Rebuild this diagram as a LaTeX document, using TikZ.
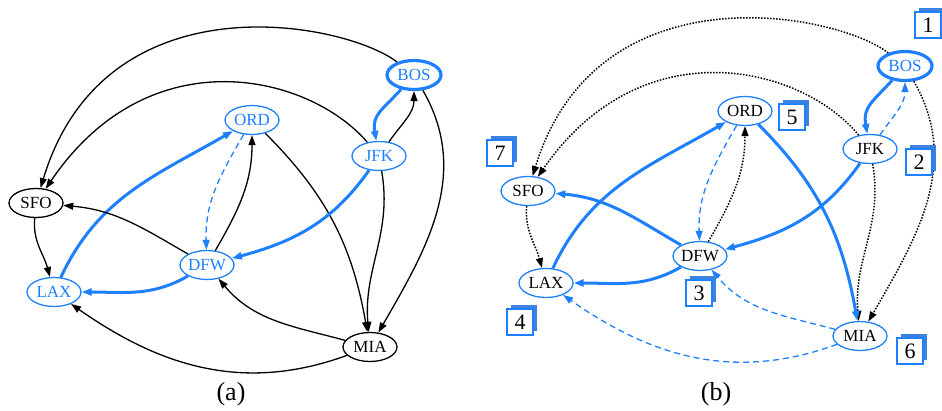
\documentclass[tikz,border=0pt]{standalone}
\usepackage{fontspec}
\setmainfont{Liberation Serif}
\usetikzlibrary{arrows.meta,shapes.geometric,shadows}
\definecolor{myblue}{RGB}{30,128,255}
\definecolor{shblue}{RGB}{60,130,225}
\tikzset{
  arr/.style={-{Triangle[length=10pt,width=7pt]}},
  blk/.style={arr,draw=black,line width=1.3pt},
  thk/.style={arr,draw=myblue,line width=3pt},
  dsh/.style={arr,draw=myblue,line width=1.3pt,dash pattern=on 6pt off 4pt},
  dts/.style={arr,draw=black,line width=1.5pt,dash pattern=on 1.5pt off 1.5pt},
  apt/.style={ellipse,draw=black,line width=1.3pt,minimum width=54pt,minimum height=29pt,inner sep=0pt,font=\fontsize{17}{17}\selectfont},
  bapt/.style={apt,draw=myblue,text=myblue},
  capt/.style={apt,draw=myblue,text=black},
  bos/.style={apt,draw=myblue,text=myblue,line width=3.2pt},
  numbox/.style={rectangle,draw=myblue,fill=white,line width=1.5pt,minimum width=26pt,minimum height=26pt,inner sep=0pt,
    font=\fontsize{22}{22}\selectfont,
    general shadow={fill=shblue,shadow xshift=4pt,shadow yshift=4pt}},
  panellabel/.style={font=\fontsize{26}{26}\selectfont}
}
\newcommand\alledges[1]{%
 \draw[e1] (#1BOS) .. controls (345,-22) and (105,25) .. (#1SFO);
 \draw[e2] (#1JFK) .. controls (310,-75) and (150,-35) .. (#1SFO);
 \draw[e3] (#1BOS) to[out=228,in=100,looseness=1.2] (#1JFK);
 \draw[e4] (#1JFK) to[out=55,in=270] (#1BOS);
 \draw[e5] (#1BOS) to[out=-60,in=60] (#1MIA);
 \draw[e6] (#1JFK) to[out=-80,in=95] (#1MIA);
 \draw[e7] (#1ORD) to[out=-45,in=100] (#1MIA);
 \draw[e8] (#1JFK) to[out=235,in=15] (#1DFW);
 \draw[e9] (#1ORD) to[out=240,in=92] (#1DFW);
 \draw[e10] (#1DFW) to[out=60,in=270] (#1ORD);
 \draw[e11] (#1LAX) to[out=65,in=210] (#1ORD);
 \draw[e12] (#1DFW) to[out=150,in=-5] (#1SFO);
 \draw[e13] (#1SFO) to[out=265,in=105] (#1LAX);
 \draw[e14] (#1DFW) to[out=210,in=0] (#1LAX);
 \draw[e15] (#1MIA) to[out=165,in=-50] (#1DFW);
 \draw[e16] (#1MIA) to[out=200,in=-35] (#1LAX);
}
\begin{document}
\begin{tikzpicture}[x=1pt,y=1pt]
\useasboundingbox (0,0) rectangle (942,-410);
\fill[white] (0,0) rectangle (942,-410);
% panel (a)
\begin{scope}[e1/.style={blk},e2/.style={blk},e3/.style={thk},e4/.style={blk},
  e5/.style={blk},e6/.style={blk},e7/.style={blk},e8/.style={thk},e9/.style={dsh},
  e10/.style={blk},e11/.style={thk},e12/.style={blk},e13/.style={blk},e14/.style={thk},
  e15/.style={blk},e16/.style={blk}]
\node[bos] (aBOS) at (414,-75) {BOS};
\node[bapt] (aORD) at (252,-120) {ORD};
\node[bapt] (aJFK) at (379,-156) {JFK};
\node[apt] (aSFO) at (36,-203) {SFO};
\node[bapt] (aDFW) at (207,-265) {DFW};
\node[bapt] (aLAX) at (54,-292) {LAX};
\node[apt] (aMIA) at (370,-347) {MIA};
\alledges{a}
\node[panellabel] (alabel) at (231,-394) {(a)};
\end{scope}
% panel (b)
\begin{scope}[shift={(492,9)},e1/.style={dts},e2/.style={dts},e3/.style={thk},e4/.style={dsh},
  e5/.style={dts},e6/.style={dts},e7/.style={thk},e8/.style={thk},e9/.style={dsh},
  e10/.style={dts},e11/.style={thk},e12/.style={thk},e13/.style={dts},e14/.style={thk},
  e15/.style={dsh},e16/.style={dsh}]
\node[bos] (bBOS) at (413,-75) {BOS};
\node[capt] (bORD) at (253,-120) {ORD};
\node[capt] (bJFK) at (378,-158) {JFK};
\node[capt] (bSFO) at (36,-200) {SFO};
\node[capt] (bDFW) at (208,-265) {DFW};
\node[capt] (bLAX) at (54,-292) {LAX};
\node[capt] (bMIA) at (368,-345) {MIA};
\alledges{b}
\end{scope}
\node[panellabel] (blabel) at (716,-394) {(b)};
\node[numbox] (n1) at (928,-25) {1};
\node[numbox] (n2) at (919,-162) {2};
\node[numbox] (n3) at (699,-293) {3};
\node[numbox] (n4) at (520,-322) {4};
\node[numbox] (n5) at (792,-117) {5};
\node[numbox] (n6) at (910,-351) {6};
\node[numbox] (n7) at (500,-153) {7};
\end{tikzpicture}
\end{document}
